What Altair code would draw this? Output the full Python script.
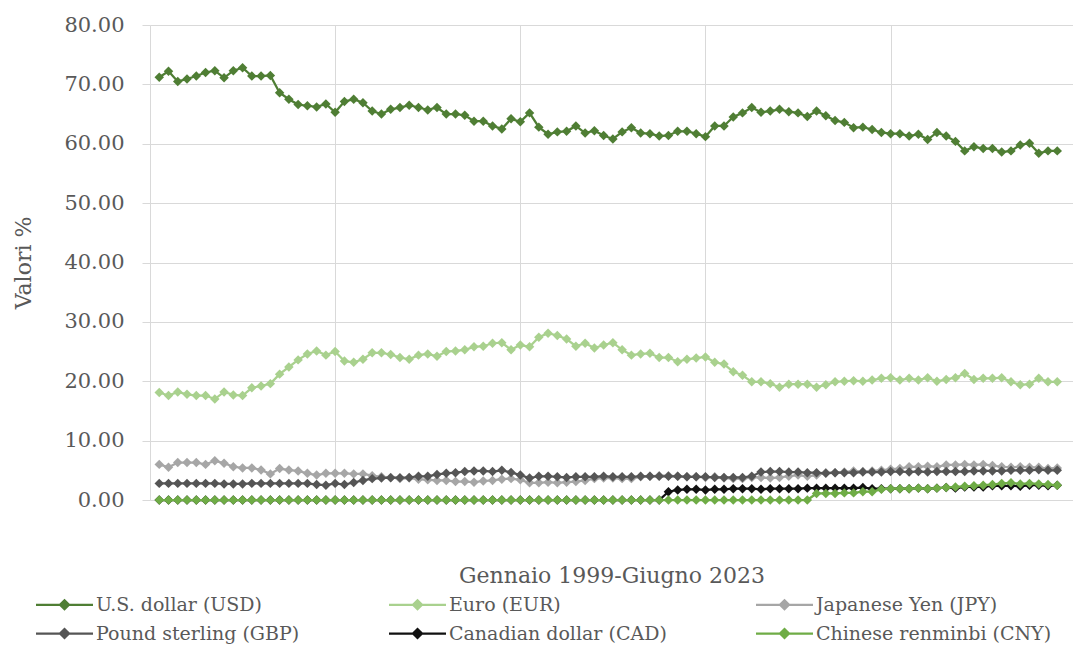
import altair as alt
import pandas as pd

# Quarterly observations, Q1 1999 (1) to Q2 2023 (98)
quarters = list(range(1, 99))

usd = [71.2, 72.2, 70.5, 70.9, 71.4, 72.0, 72.3, 71.1, 72.3, 72.8, 71.4, 71.4, 71.5, 68.6, 67.5, 66.6,
       66.4, 66.2, 66.7, 65.3, 67.1, 67.5, 66.9, 65.5, 65.0, 65.8, 66.1, 66.5, 66.1, 65.7, 66.1, 65.0,
       65.0, 64.8, 63.8, 63.8, 63.0, 62.5, 64.2, 63.7, 65.2, 62.8, 61.6, 62.0, 62.1, 63.0, 61.8, 62.2,
       61.4, 60.8, 62.0, 62.7, 61.8, 61.7, 61.3, 61.4, 62.1, 62.1, 61.7, 61.2, 63.0, 63.0, 64.5, 65.2,
       66.1, 65.3, 65.5, 65.8, 65.4, 65.2, 64.6, 65.5, 64.7, 63.9, 63.6, 62.7, 62.8, 62.4, 61.9, 61.7,
       61.7, 61.3, 61.6, 60.7, 61.9, 61.3, 60.4, 58.8, 59.5, 59.2, 59.2, 58.6, 58.8, 59.8, 60.1, 58.4,
       58.8, 58.8]

eur = [18.1, 17.6, 18.2, 17.8, 17.6, 17.6, 17.0, 18.2, 17.7, 17.6, 18.9, 19.2, 19.6, 21.2, 22.4, 23.6,
       24.6, 25.1, 24.4, 25.0, 23.4, 23.2, 23.7, 24.8, 24.8, 24.5, 24.0, 23.7, 24.4, 24.6, 24.2, 25.0,
       25.1, 25.3, 25.8, 25.9, 26.4, 26.5, 25.3, 26.1, 25.8, 27.4, 28.1, 27.7, 27.1, 25.9, 26.4, 25.6,
       26.1, 26.5, 25.3, 24.4, 24.6, 24.7, 24.0, 24.0, 23.3, 23.7, 23.9, 24.1, 23.2, 22.9, 21.6, 21.0,
       19.9, 19.9, 19.6, 19.0, 19.5, 19.5, 19.5, 19.0, 19.4, 19.9, 20.0, 20.1, 20.0, 20.2, 20.5, 20.6,
       20.2, 20.5, 20.2, 20.6, 20.0, 20.3, 20.6, 21.3, 20.3, 20.5, 20.5, 20.6, 19.9, 19.4, 19.5, 20.5,
       19.9, 19.9]

jpy = [6.0, 5.5, 6.3, 6.3, 6.3, 6.0, 6.6, 6.2, 5.6, 5.4, 5.4, 5.05, 4.4, 5.3, 5.05, 4.9,
       4.5, 4.2, 4.5, 4.5, 4.5, 4.4, 4.4, 4.1, 3.9, 3.8, 3.6, 3.7, 3.5, 3.4, 3.3, 3.3,
       3.1, 3.1, 3.0, 3.2, 3.3, 3.5, 3.6, 3.4, 2.9, 2.9, 3.0, 2.9, 3.0, 3.1, 3.3, 3.6,
       3.7, 3.7, 3.6, 3.6, 3.9, 4.0, 4.1, 4.1, 4.0, 3.9, 3.9, 3.8, 3.9, 3.7, 3.6, 3.6,
       3.8, 3.8, 3.7, 3.8, 4.0, 4.2, 4.0, 4.2, 4.6, 4.6, 4.7, 4.9, 4.8, 4.9, 5.0, 5.2,
       5.3, 5.6, 5.6, 5.7, 5.6, 5.9, 5.9, 6.0, 5.9, 6.0, 5.8, 5.6, 5.5, 5.6, 5.5, 5.5,
       5.3, 5.4]

gbp = [2.8, 2.8, 2.8, 2.8, 2.8, 2.8, 2.8, 2.7, 2.7, 2.7, 2.8, 2.8, 2.8, 2.8, 2.8, 2.8,
       2.8, 2.6, 2.5, 2.8, 2.6, 2.95, 3.3, 3.6, 3.7, 3.75, 3.75, 3.8, 4.0, 4.0, 4.3, 4.5,
       4.6, 4.8, 4.9, 4.9, 4.8, 5.0, 4.65, 4.2, 3.7, 4.0, 4.0, 3.9, 3.8, 3.9, 3.9, 3.9,
       4.0, 3.9, 3.9, 3.9, 4.0, 4.0, 4.0, 4.0, 4.0, 3.9, 3.9, 3.9, 3.8, 3.8, 3.8, 3.8,
       4.0, 4.7, 4.8, 4.8, 4.7, 4.7, 4.6, 4.6, 4.5, 4.6, 4.6, 4.6, 4.7, 4.7, 4.7, 4.8,
       4.8, 4.7, 4.8, 4.7, 4.8, 4.8, 4.8, 4.8, 4.9, 4.9, 4.9, 4.9, 5.0, 5.0, 5.0, 5.1,
       5.0, 5.0]

cad = [0.0] * 55 + [1.4, 1.7, 1.8, 1.8, 1.7, 1.8, 1.8, 1.9, 1.9, 1.9, 1.8, 1.9, 1.9, 1.9, 1.9,
                    2.0, 2.0, 2.0, 2.0, 2.0, 2.0, 2.1, 1.9, 1.9, 1.9, 1.9, 1.9, 2.0, 1.9, 2.0,
                    2.1, 2.0, 2.2, 2.2, 2.2, 2.4, 2.4, 2.4, 2.3, 2.5, 2.5, 2.4, 2.5]

cny = [0.0] * 71 + [1.1, 1.1, 1.1, 1.2, 1.2, 1.4, 1.4, 1.8, 1.9, 1.9, 1.9, 2.0, 1.9, 2.0, 2.1,
                    2.2, 2.3, 2.4, 2.5, 2.6, 2.8, 2.9, 2.7, 2.8, 2.7, 2.6, 2.5]

series_names = ["U.S. dollar (USD)", "Euro (EUR)", "Japanese Yen (JPY)",
                "Pound sterling (GBP)", "Canadian dollar (CAD)", "Chinese renminbi (CNY)"]
series_colors = ["#4f7e34", "#a9d18e", "#a6a6a6", "#555555", "#111111", "#6fac46"]
series_values = [usd, eur, jpy, gbp, cad, cny]

rows = []
for name, vals in zip(series_names, series_values):
    for q, v in zip(quarters, vals):
        rows.append({"trimestre": q, "valore": v, "valuta": name})
df = pd.DataFrame(rows)

FONT = "DejaVu Serif"
TEXT = "#595959"
GRID = "#d9d9d9"

x_enc = alt.X(
    "trimestre:Q",
    scale=alt.Scale(domain=[0, 99.7], nice=False, zero=False),
    axis=alt.Axis(values=[0, 20, 40, 60, 80], labels=False, ticks=False, domain=False,
                  grid=True, gridColor=GRID, gridWidth=1,
                  title="Gennaio 1999-Giugno 2023", titleFont=FONT, titleFontSize=22,
                  titleFontWeight="normal", titleColor=TEXT, titlePadding=65),
)
y_enc = alt.Y(
    "valore:Q",
    scale=alt.Scale(domain=[0, 80], nice=False),
    axis=alt.Axis(values=[0, 10, 20, 30, 40, 50, 60, 70, 80], format=".2f",
                  labelFont=FONT, labelFontSize=21, labelColor=TEXT, labelPadding=18,
                  ticks=True, tickSize=8, tickColor=GRID, domain=False,
                  grid=True, gridColor=GRID, gridWidth=1,
                  title="Valori %", titleFont=FONT, titleFontSize=22,
                  titleFontWeight="normal", titleColor=TEXT, titlePadding=28),
)

# Legend symbol: a short line with a diamond in the middle
legend_symbol = "M-2.85,0L2.85,0M0,-0.45L0.45,0L0,0.45L-0.45,0Z"
color_enc = alt.Color(
    "valuta:N",
    scale=alt.Scale(domain=series_names, range=series_colors),
    legend=alt.Legend(
        title=None, orient="none", legendX=-97, legendY=568, direction="horizontal",
        columns=3, columnPadding=84, rowPadding=7,
        symbolType=legend_symbol, symbolSize=400, symbolStrokeWidth=2.25,
        labelFont=FONT, labelFontSize=19, labelColor=TEXT, labelOffset=20,
        labelLimit=400,
    ),
)

base = alt.Chart(df).encode(x=x_enc, y=y_enc, color=color_enc)

layers = []
for name in series_names:
    sub = base.transform_filter(alt.datum.valuta == name)
    layers.append(sub.mark_line(strokeWidth=2.25))
    layers.append(sub.mark_point(shape="diamond", filled=True, size=90, opacity=1))

chart = (
    alt.layer(*layers)
    .properties(
        width=923, height=475,
        autosize=alt.AutoSizeParams(type="none"),
        padding={"left": 150, "top": 25, "right": 0, "bottom": 164},
        background="white",
    )
    .configure_view(stroke=None)
)

chart.save("out.html", embed_options={"renderer": "svg", "actions": False})
